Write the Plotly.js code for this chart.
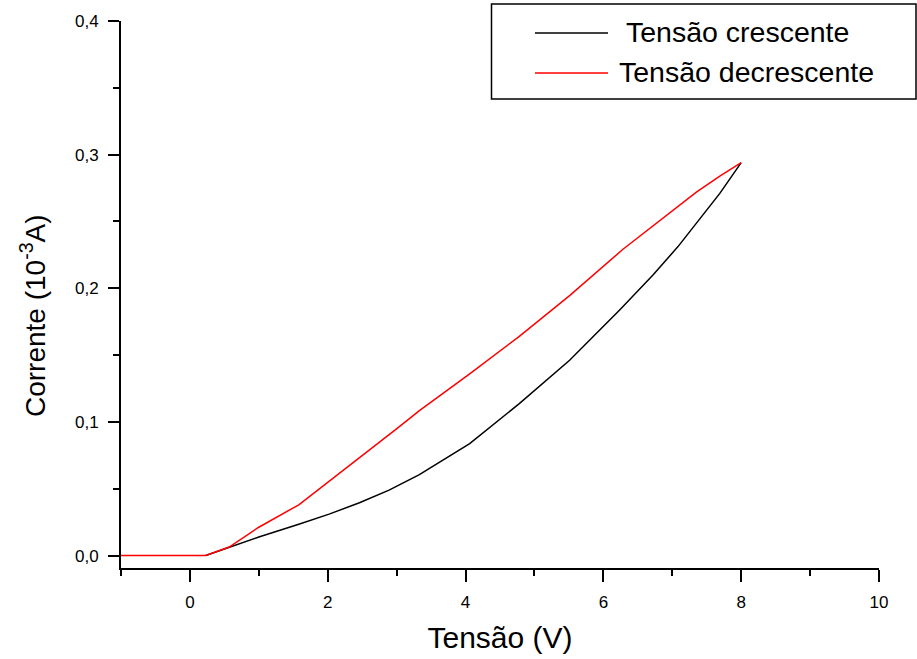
<!DOCTYPE html>
<html>
<head>
<meta charset="utf-8">
<script src="https://cdn.plot.ly/plotly-3.0.1.min.js"></script>
<style>html,body{margin:0;padding:0;background:#fff;}#chart{width:917px;height:659px;}</style>
</head>
<body>
<div id="chart"></div>
<script>
// Tensão crescente (increasing voltage) - black
const crescenteX = [0.23, 0.57, 1.0, 1.58, 2.02, 2.46, 2.89, 3.33, 4.06, 4.78, 5.51, 6.24, 6.72, 7.08, 7.35, 7.69, 8.0];
const crescenteY = [0.0, 0.0064, 0.0139, 0.0235, 0.031, 0.0395, 0.049, 0.0605, 0.0838, 0.1137, 0.1461, 0.184, 0.210, 0.231, 0.249, 0.271, 0.294];

// Tensão decrescente (decreasing voltage) - red
const decrescenteX = [8.0, 7.69, 7.35, 6.91, 6.28, 5.51, 4.78, 4.06, 3.33, 3.04, 2.46, 2.02, 1.58, 1.0, 0.57, 0.23, -1.0];
const decrescenteY = [0.294, 0.284, 0.272, 0.2545, 0.229, 0.1945, 0.164, 0.136, 0.1085, 0.0965, 0.073, 0.0555, 0.038, 0.0212, 0.0064, 0.0, 0.0];

const seriesNames = ["Tensão crescente", "Tensão decrescente"];
const seriesColors = ["#000000", "#ff0000"];

const W = 917, H = 659;
const M = {l: 121, r: 38, t: 21, b: 91};
const pw = W - M.l - M.r, ph = H - M.t - M.b;
const px = x => (x - M.l) / pw;
const py = y => (H - M.b - y) / ph;

const font = "Liberation Sans, Arial, sans-serif";

const traces = [
  {x: crescenteX, y: crescenteY, name: seriesNames[0], mode: "lines", line: {color: seriesColors[0], width: 1.5}, showlegend: false},
  {x: decrescenteX, y: decrescenteY, name: seriesNames[1], mode: "lines", line: {color: seriesColors[1], width: 1.5}, showlegend: false}
];

const shapes = [
  {type: "rect", xref: "paper", yref: "paper", x0: px(491.5), x1: px(916), y0: py(99), y1: py(4), line: {color: "#000", width: 1.5}, fillcolor: "rgba(0,0,0,0)"},
  {type: "line", xref: "paper", yref: "paper", x0: px(535), x1: px(608), y0: py(33), y1: py(33), line: {color: seriesColors[0], width: 1.5}},
  {type: "line", xref: "paper", yref: "paper", x0: px(535), x1: px(608), y0: py(73), y1: py(73), line: {color: seriesColors[1], width: 1.5}}
];

const annotations = [
  {xref: "paper", yref: "paper", x: px(624), y: py(32), xanchor: "left", yanchor: "middle", text: seriesNames[0], showarrow: false, font: {family: font, size: 28.5, color: "#000"}},
  {xref: "paper", yref: "paper", x: px(617), y: py(72), xanchor: "left", yanchor: "middle", text: seriesNames[1], showarrow: false, font: {family: font, size: 28.5, color: "#000"}},
  {xref: "paper", yref: "paper", x: px(33), y: py(316), xanchor: "center", yanchor: "middle", textangle: -90, text: "Corrente (10<sup>-3</sup>A)", showarrow: false, font: {family: font, size: 28, color: "#000"}}
];

const layout = {
  width: W, height: H,
  margin: M,
  paper_bgcolor: "#fff", plot_bgcolor: "#fff",
  separators: ",.",
  showlegend: false,
  font: {family: font, color: "#000"},
  xaxis: {
    range: [-1, 10], tick0: 0, dtick: 2,
    showline: true, linewidth: 2, linecolor: "#000",
    showgrid: false, zeroline: false,
    ticks: "outside", ticklen: 12, tickwidth: 2, tickcolor: "#000",
    ticklabelstandoff: 6,
    tickfont: {family: font, size: 17, color: "#000"},
    minor: {dtick: 1, tick0: 0, ticks: "outside", ticklen: 6, tickwidth: 2, tickcolor: "#000", showgrid: false},
    title: {text: "Tensão (V)", font: {family: font, size: 30, color: "#000"}, standoff: 16}
  },
  yaxis: {
    range: [-0.0093, 0.4], tick0: 0, dtick: 0.1, tickformat: ".1f",
    showline: true, linewidth: 2, linecolor: "#000",
    showgrid: false, zeroline: false,
    ticks: "outside", ticklen: 11, tickwidth: 2, tickcolor: "#000",
    ticklabelstandoff: 6,
    tickfont: {family: font, size: 17, color: "#000"},
    minor: {dtick: 0.05, tick0: 0, ticks: "outside", ticklen: 6, tickwidth: 2, tickcolor: "#000", showgrid: false}
  },
  shapes: shapes,
  annotations: annotations
};

Plotly.newPlot("chart", traces, layout, {displayModeBar: false, staticPlot: true});
</script>
</body>
</html>
